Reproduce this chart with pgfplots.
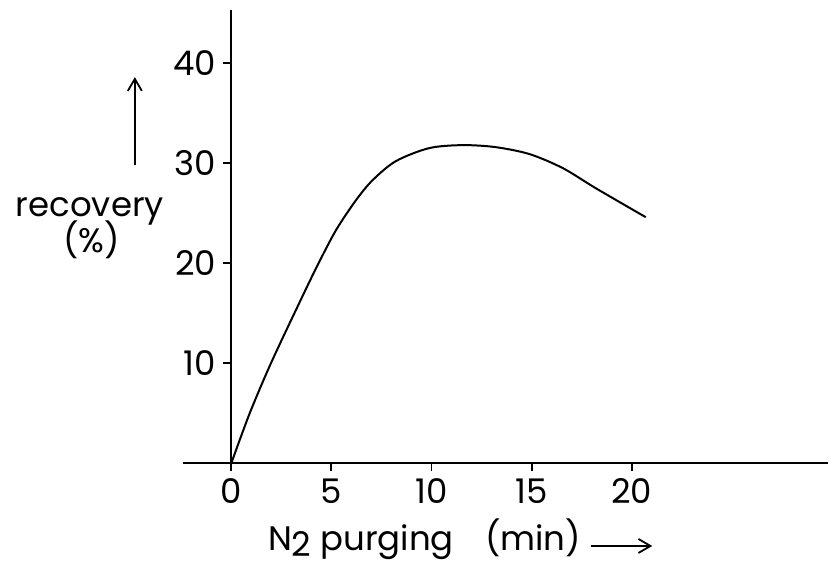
\documentclass[border=0pt]{standalone}
\usepackage{fontspec}
\setmainfont{Poppins}
\usepackage{pgfplots}
\pgfplotsset{compat=1.18}
\usetikzlibrary{arrows.meta}
\newcommand{\lbl}{\fontsize{17}{20}\selectfont}
\begin{document}
\begin{tikzpicture}
\begin{axis}[
 scale only axis,
 width=323pt,height=227pt,
 xmin=-2.42,xmax=29.8,
 ymin=0,ymax=45.3,
 axis x line=bottom,axis y line=middle,
 axis line style={-,line width=1pt},
 tick align=outside,
 major tick length=4pt,
 tick style={line width=0.9pt,black},
 xtick={0,5,10,15,20},
 ytick={10,20,30,40},
 hide obscured x ticks=false,
 tick label style={font=\lbl},
 /pgf/number format/assume math mode=true,
 clip=false]
\addplot[black,line width=1pt,smooth,tension=0.5] coordinates {
 (0,0) (0.92,5.0) (1.98,10) (3.39,16) (4.31,19.8) (5.23,23.3)
 (6.23,26.3) (7.06,28.3) (8.22,30.2) (9.88,31.5) (11.55,31.8)
 (13.2,31.6) (14.9,30.9) (16.56,29.5) (18.2,27.5) (20.7,24.6)};
% axis labels as in the original figure
\node[font=\lbl,anchor=base] at (rel axis cs:-0.144,0.544) {recovery};
\node[font=\lbl,anchor=base] at (rel axis cs:-0.141,0.465) {(\%)};
\draw[-{Straight Barb[length=6pt,width=7pt]},line width=0.9pt]
 (rel axis cs:-0.0743,0.659) -- (rel axis cs:-0.0743,0.852);
\node[font=\lbl,anchor=base west,inner sep=0pt] at (rel axis cs:0.1316,-0.191)
 {N\raisebox{-0.35ex}{2} purging\hspace{0.92em}(min)};
\draw[-{Straight Barb[length=6pt,width=7pt]},line width=0.9pt]
 (rel axis cs:0.633,-0.182) -- (rel axis cs:0.7276,-0.182);
\end{axis}
\path ([xshift=-91.5pt,yshift=-52pt]current axis.south west)
 rectangle ([yshift=5pt]current axis.north east);
\end{tikzpicture}
\end{document}
